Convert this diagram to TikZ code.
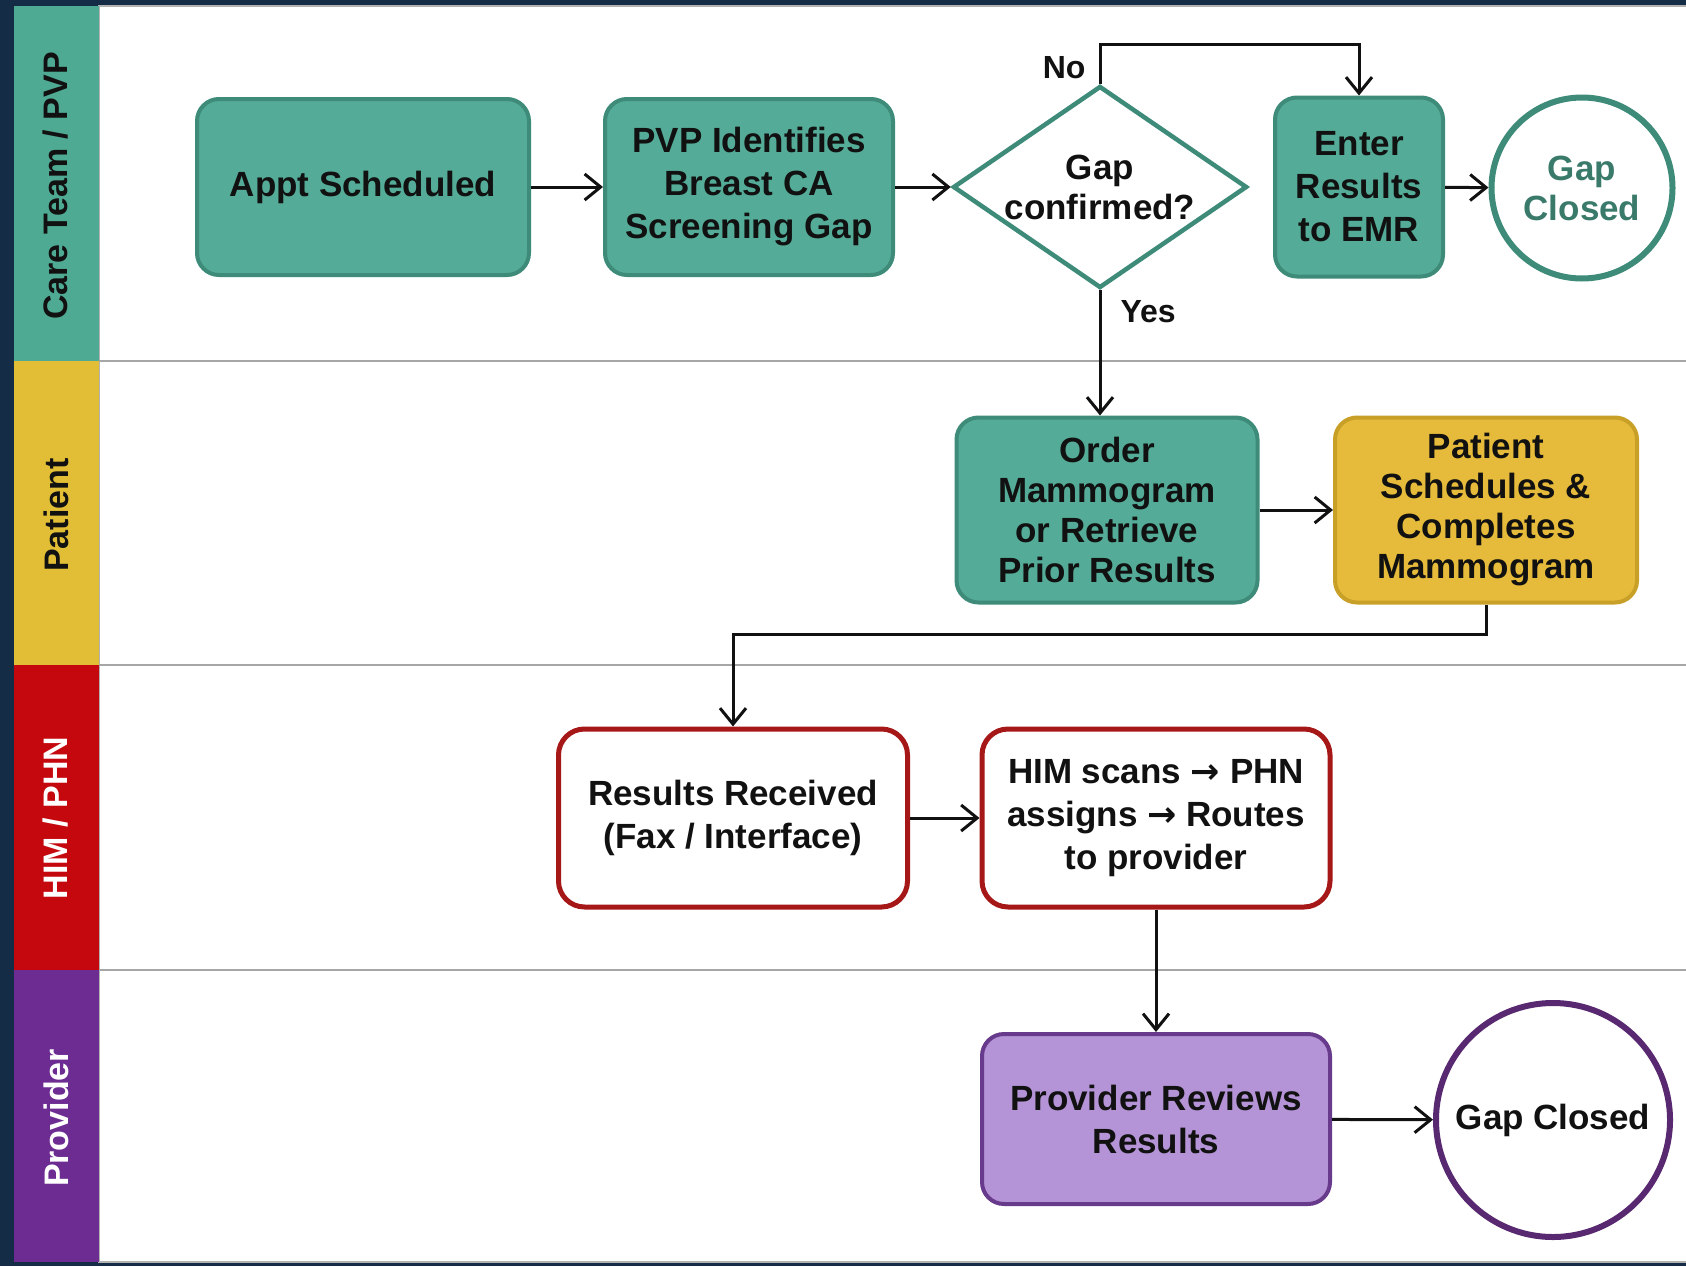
\documentclass[tikz,border=0pt]{standalone}
\usepackage{fontspec}
\setmainfont{Liberation Sans}
\newfontfamily\arrowglyph{DejaVu Sans}
\usetikzlibrary{arrows.meta,shapes.geometric}

\definecolor{backdrop}{RGB}{20,44,70}
\definecolor{teallane}{RGB}{79,170,148}
\definecolor{yellowlane}{RGB}{226,190,54}
\definecolor{redlane}{RGB}{196,8,14}
\definecolor{purplelane}{RGB}{108,44,145}
\definecolor{tealfill}{RGB}{84,171,151}
\definecolor{tealedge}{RGB}{61,139,120}
\definecolor{tealtext}{RGB}{58,122,106}
\definecolor{goldfill}{RGB}{230,186,58}
\definecolor{goldedge}{RGB}{200,160,40}
\definecolor{himedge}{RGB}{166,24,24}
\definecolor{lilacfill}{RGB}{180,148,214}
\definecolor{lilacedge}{RGB}{104,58,140}
\definecolor{plumedge}{RGB}{88,40,112}
\definecolor{ink}{RGB}{17,17,17}

\newcommand{\stepfont}{\fontsize{35}{43}\selectfont\bfseries}
\newcommand{\tightfont}{\fontsize{35}{40}\selectfont\bfseries}
\newcommand{\thento}{{\arrowglyph\bfseries →}}

\tikzset{
  stepbox/.style={draw=tealedge, fill=tealfill, line width=4pt, rounded corners=22pt,
    align=center, font=\stepfont, text=ink, inner sep=0pt},
  patientbox/.style={stepbox, draw=goldedge, fill=goldfill, font=\tightfont},
  himbox/.style={stepbox, draw=himedge, fill=white, line width=5pt, rounded corners=26pt},
  reviewbox/.style={stepbox, draw=lilacedge, fill=lilacfill},
  decision/.style={diamond, shape aspect=1.455, draw=tealedge, fill=white, line width=4.5pt,
    minimum width=294pt, minimum height=202pt, inner sep=-2pt, align=center,
    font=\tightfont, text=ink},
  endstate/.style={circle, line width=6pt, fill=white, align=center, inner sep=0pt,
    font=\tightfont},
  lanetitle/.style={rotate=90, font=\fontsize{34}{40}\selectfont\bfseries, text=ink},
  lanerule/.style={draw=gray!70, line width=2pt},
  choice/.style={font=\fontsize{32}{38}\selectfont\bfseries, text=ink, inner sep=7pt},
  flow/.style={-{Straight Barb[length=16pt,width=26pt]}, line width=3pt, draw=ink}
}

\begin{document}
\begin{tikzpicture}[x=1pt,y=-1pt]
\useasboundingbox (0,0) rectangle (1686,1266);
%Background and swimlanes
\fill[backdrop] (0,0) rectangle (1686,1266);
\filldraw[fill=white, draw=gray!60, line width=1.5pt] (99,6) rectangle (1690,1262);

\fill[teallane] (14,6) rectangle (99,361);
\fill[yellowlane] (14,361) rectangle (99,665);
\fill[redlane] (14,665) rectangle (99,970);
\fill[purplelane] (14,970) rectangle (99,1262);
\draw[lanerule] (99,361) -- (1686,361);
\draw[lanerule] (99,665) -- (1686,665);
\draw[lanerule] (99,970) -- (1686,970);

\node[lanetitle] (carelane) at (56,186) {Care Team / PVP};
\node[lanetitle] (patientlane) at (56,515) {Patient};
\node[lanetitle, text=white] (himlane) at (56,818) {HIM / PHN};
\node[lanetitle, text=white] (providerlane) at (56,1118) {Provider};

%Care Team / PVP
\node[stepbox, minimum width=332pt, minimum height=176pt] (appt) at (363,187) {Appt Scheduled};
\node[stepbox, minimum width=288pt, minimum height=176pt] (pvp) at (749,187) {PVP Identifies\\Breast CA\\Screening Gap};
\node[decision] (gapq) at (1100,187) {Gap\\confirmed?};
\node[stepbox, minimum width=168pt, minimum height=179pt] (enter) at (1359,187) {Enter\\Results\\to EMR};
\node[endstate, draw=tealedge, text=tealtext, minimum size=181pt] (gapone) at (1582,188) {Gap\\Closed};

%Patient
\node[stepbox, font=\tightfont, minimum width=301pt, minimum height=185pt] (order) at (1107,510) {Order\\Mammogram\\or Retrieve\\Prior Results};
\node[patientbox, minimum width=302pt, minimum height=185pt] (sched) at (1486,510) {Patient\\Schedules \&\\Completes\\Mammogram};

%HIM / PHN
\node[himbox, minimum width=349pt, minimum height=178pt] (recv) at (733,818) {Results Received\\(Fax / Interface)};
\node[himbox, minimum width=348pt, minimum height=178pt] (him) at (1156,818) {HIM scans \thento{} PHN\\assigns \thento{} Routes\\to provider};

%Provider
\node[reviewbox, minimum width=348pt, minimum height=170pt] (review) at (1156,1119) {Provider Reviews\\Results};
\node[endstate, draw=plumedge, text=ink, minimum size=234pt] (gaptwo) at (1553,1120) {Gap Closed};

%Connectors
\coordinate (nobend) at (1100,44);
\coordinate (resultsbend) at (733,634);
\draw[flow] (appt) -- (pvp);
\draw[flow] (pvp) -- (gapq);
\draw[flow] (gapq.north) -- node[choice, left, xshift=-6pt, yshift=-4pt] (nolabel) {No} (gapq.north |- nobend) -| (enter.north);
\draw[flow] (enter) -- (gapone);
\draw[flow] (gapq.south) -- node[choice, right, pos=0.17, xshift=12pt] (yeslabel) {Yes} (gapq.south |- order.north);
\draw[flow] (order) -- (sched);
\draw[flow] (sched.south) |- (resultsbend) -- (recv.north);
\draw[flow] (recv) -- (him);
\draw[flow] (him) -- (review);
\draw[flow] (review) -- (gaptwo);
\end{tikzpicture}
\end{document}
